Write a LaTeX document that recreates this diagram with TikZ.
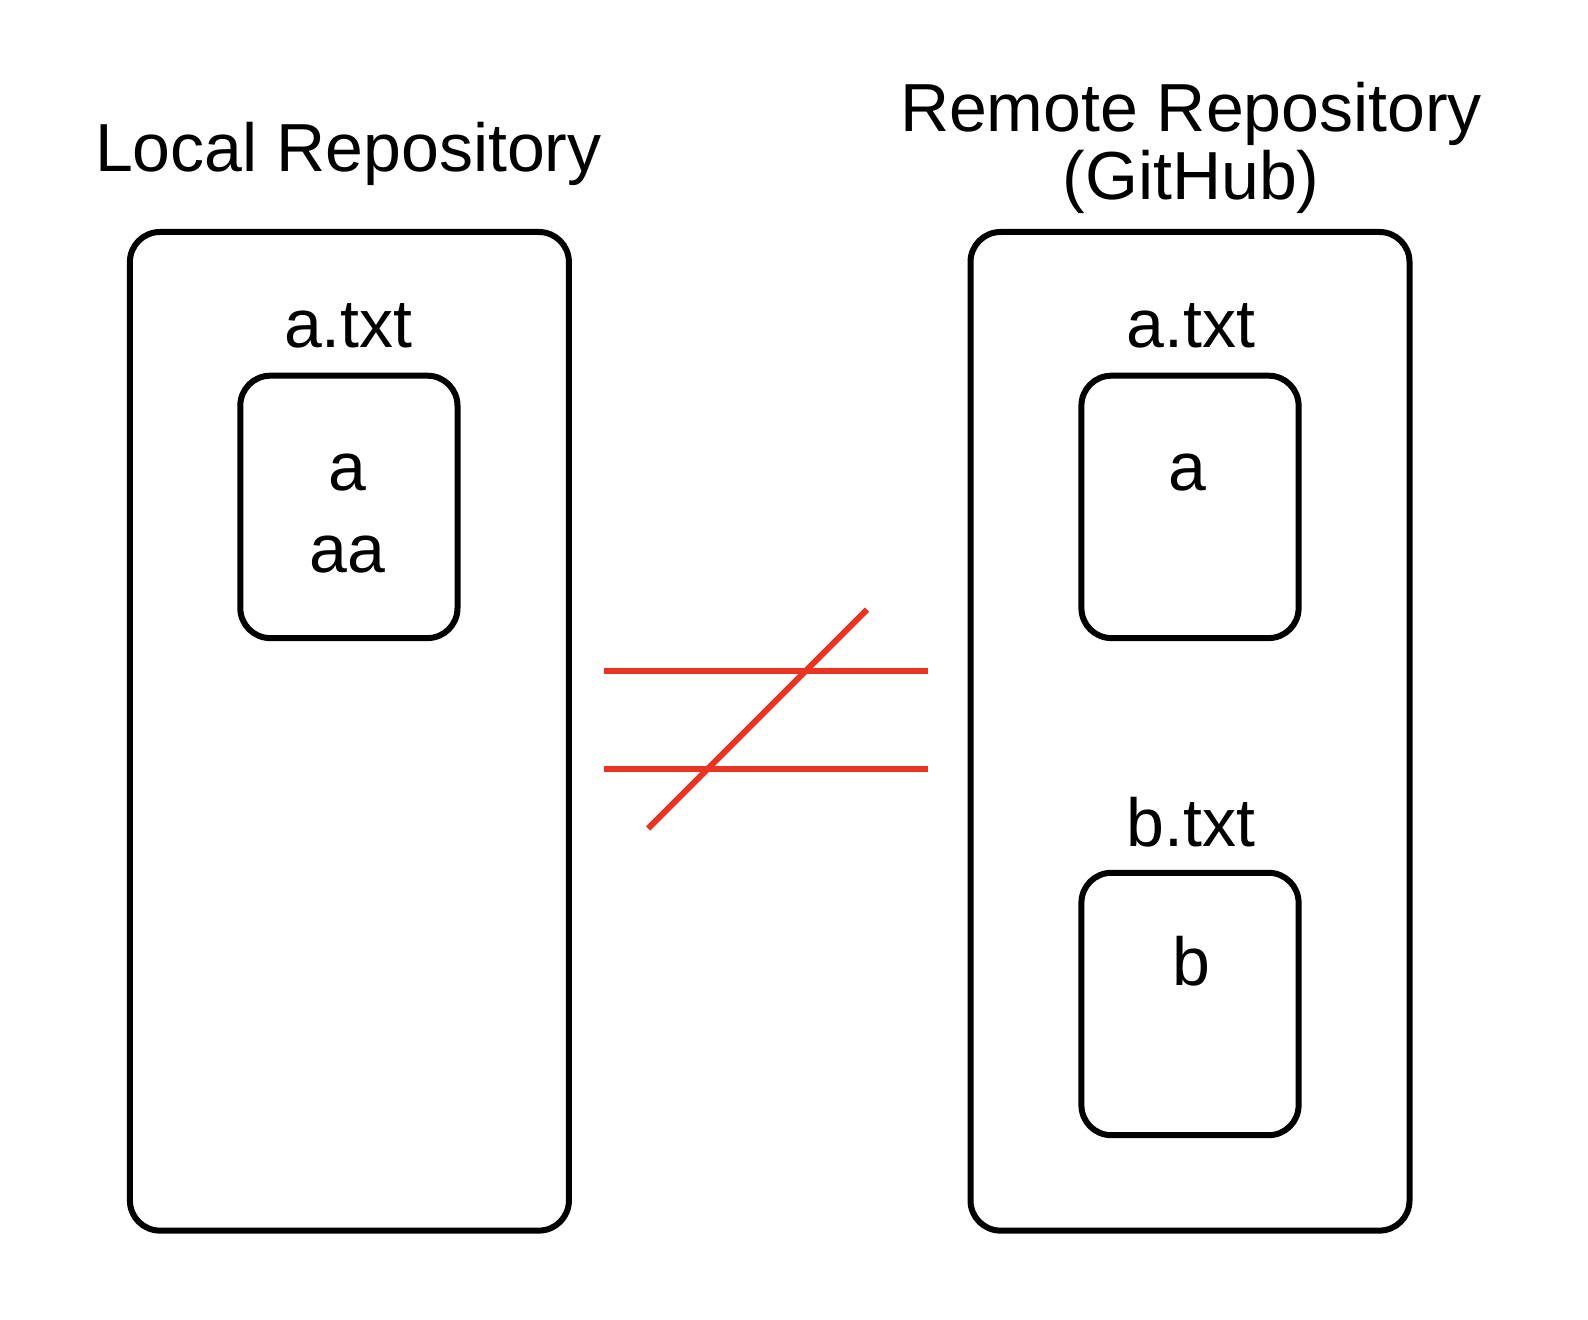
\documentclass[tikz,border=0pt]{standalone}
\usepackage{fontspec}
\setmainfont{Liberation Sans}
\definecolor{nered}{RGB}{233,51,35}
\begin{document}
\begin{tikzpicture}[x=0.5pt,y=-0.5pt,
  repo/.style={draw=black,line width=3pt,rounded corners=15pt,inner sep=0pt,
    minimum width=219.5pt,minimum height=499.3pt},
  filebox/.style={draw=black,line width=3pt,rounded corners=15pt,inner sep=0pt,
    minimum width=108.6pt,minimum height=131.2pt},
  lbl/.style={anchor=base,inner sep=0pt,font=\fontsize{34}{40}\selectfont},
  neq/.style={draw=nered,line width=3pt}]
\useasboundingbox (0,0) rectangle (1588,1320);
\node[repo] (local) at (349.4,731.3) {};
\node[repo] (remote) at (1190,731.3) {};
\node[filebox] (la) at (348.9,506.9) {};
\node[filebox] (ra) at (1190,506.9) {};
\node[filebox] (rb) at (1190,1004) {};
\node[lbl] (tlocal) at (348.4,172) {Local Repository};
\node[lbl] (tremote) at (1191,131.7) {Remote Repository};
\node[lbl] (tgithub) at (1191,199.5) {(GitHub)};
\node[lbl] (lfa) at (348.4,347.4) {a.txt};
\node[lbl] (rfa) at (1191,347.4) {a.txt};
\node[lbl] (rfb) at (1191,846.7) {b.txt};
\node[lbl] (la1) at (347.4,490) {a};
\node[lbl] (la2) at (347.4,572) {aa};
\node[lbl] (ra1) at (1187,490) {a};
\node[lbl] (rb1) at (1191,985.5) {b};
\coordinate (h1a) at (603.6,670.5);
\coordinate (h1b) at (927.7,670.5);
\coordinate (h2a) at (603.6,768.7);
\coordinate (h2b) at (927.7,768.7);
\coordinate (da) at (648.2,828.5);
\coordinate (db) at (867,609.7);
\draw[neq] (h1a) -- (h1b);
\draw[neq] (h2a) -- (h2b);
\draw[neq] (da) -- (db);
\end{tikzpicture}
\end{document}
